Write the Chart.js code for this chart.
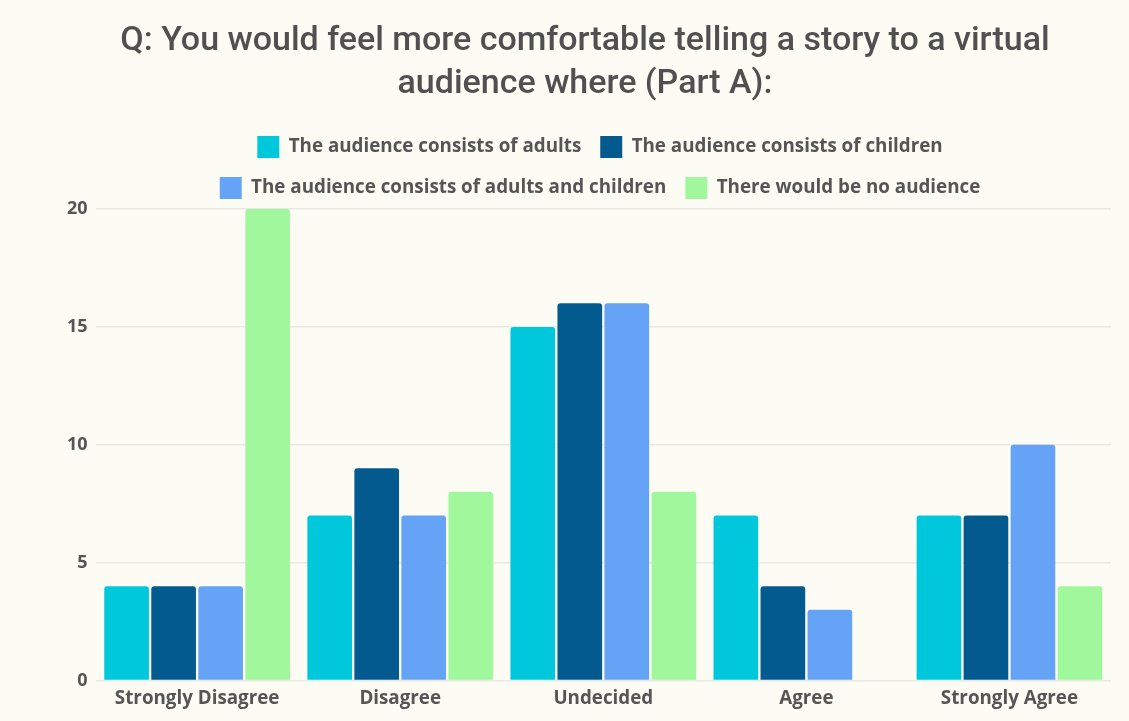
<!DOCTYPE html>
<html lang="en">
<head>
  <meta charset="UTF-8">
  <title>Virtual audience comfort (Part A)</title>
  <script src="https://cdn.jsdelivr.net/npm/chart.js"></script>
  <style>
    html, body { margin: 0; padding: 0; background: #fcfcf5; }
    canvas { display: block; }
  </style>
</head>
<body>
  <canvas id="surveyChart" width="1129" height="721"></canvas>

  <script>
    // answer scale on the x axis
    const categories = ['Strongly Disagree', 'Disagree', 'Undecided', 'Agree', 'Strongly Agree'];

    // number of respondents per answer, one array per audience option
    const adults = [4, 7, 15, 7, 7];
    const children = [4, 9, 16, 4, 7];
    const adultsAndChildren = [4, 7, 16, 3, 10];
    const noAudience = [20, 8, 8, 0, 4];

    const seriesNames = [
      'The audience consists of adults',
      'The audience consists of children',
      'The audience consists of adults and children',
      'There would be no audience'
    ];
    const yTicks = [0, 5, 10, 15, 20];

    const colors = ['#00c8dc', '#035a8e', '#65a3f6', '#a1f89c'];
    const textGray = '#555555';
    const labelFont = { family: 'Open Sans', size: 18.8, weight: '700' };

    const seriesValues = [adults, children, adultsAndChildren, noAudience];
    const datasets = seriesNames.map((name, i) => ({
      label: name,
      data: seriesValues[i],
      backgroundColor: colors[i],
      borderWidth: 0,
      borderRadius: { topLeft: 3, topRight: 3 },
      barPercentage: 0.95,
      categoryPercentage: 0.926
    }));

    // nudge the legend rows a little to the right of the title's centre
    const legendShift = {
      id: 'legendShift',
      afterLayout(chart) {
        chart.legend.left += 15;
        chart.legend.right += 15;
      }
    };

    const ctx = document.getElementById('surveyChart').getContext('2d');
    new Chart(ctx, {
      type: 'bar',
      data: { labels: categories, datasets: datasets },
      plugins: [legendShift],
      options: {
        responsive: false,
        animation: false,
        layout: { padding: { left: 59, right: 18, top: 0, bottom: 4 } },
        plugins: {
          title: {
            display: true,
            text: ['Q: You would feel more comfortable telling a story to a virtual', 'audience where (Part A):'],
            color: '#505050',
            font: { family: 'Roboto', size: 34, weight: '500', lineHeight: 1.265 },
            padding: { top: 20, bottom: 11 }
          },
          legend: {
            display: true,
            position: 'top',
            labels: {
              boxWidth: 22,
              boxHeight: 22,
              padding: 19,
              color: textGray,
              font: labelFont
            }
          },
          tooltip: { enabled: false }
        },
        scales: {
          x: {
            grid: { display: false, drawTicks: false },
            border: { display: false },
            ticks: {
              color: textGray,
              padding: 7,
              font: labelFont
            }
          },
          y: {
            min: 0,
            max: 20,
            afterBuildTicks: (axis) => { axis.ticks = yTicks.map(v => ({ value: v })); },
            grid: { color: '#e9e9e4', drawTicks: false, lineWidth: 1.5 },
            border: { display: false },
            ticks: {
              color: textGray,
              padding: 8,
              font: { family: 'Open Sans', size: 18, weight: '700' }
            }
          }
        }
      }
    });
  </script>
</body>
</html>
